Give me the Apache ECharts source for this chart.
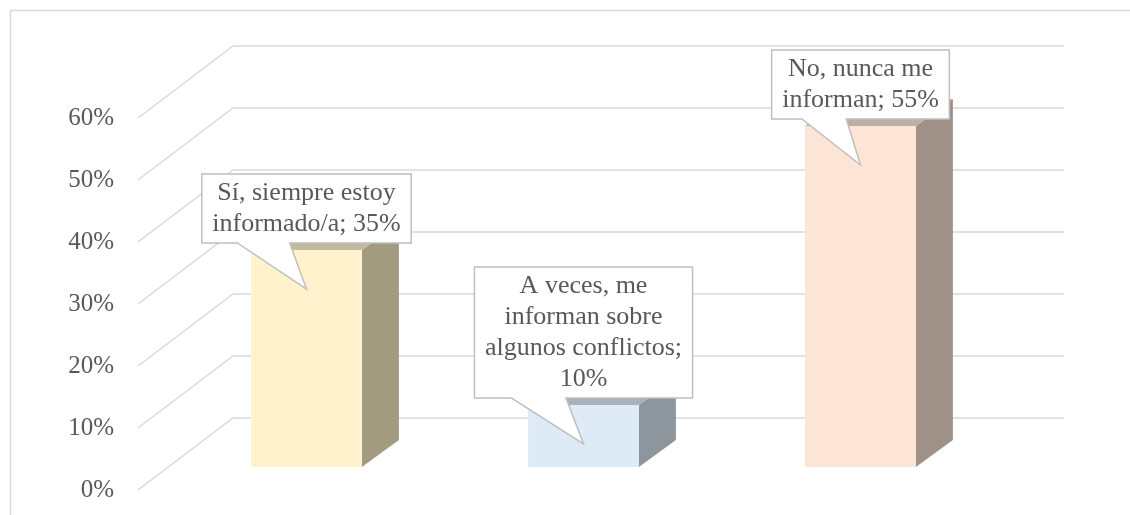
<!DOCTYPE html>
<html>
<head>
<meta charset="utf-8">
<script src="https://cdn.jsdelivr.net/npm/echarts@6/dist/echarts.min.js"></script>
<style>
  html, body { margin: 0; padding: 0; background: #fff; }
  #main { width: 1130px; height: 515px; }
</style>
</head>
<body>
<div id="main"></div>
<script>
    // datos
    var categories = ['Sí, siempre estoy informado/a', 'A veces, me informan sobre algunos conflictos', 'No, nunca me informan'];
    var values = [35, 10, 55];
    var yTicks = [0, 10, 20, 30, 40, 50, 60];
    var calloutTexts = [
        'Sí, siempre estoy\ninformado/a; 35%',
        'A veces, me\ninforman sobre\nalgunos conflictos;\n10%',
        'No, nunca me\ninforman; 55%'
    ];

    var frontColors = ['#FFF2CC', '#DEEBF7', '#FCE4D6'];
    var sideColors = ['#A39B7F', '#8D959D', '#A09188'];
    var topColors = ['#C3B99C', '#A8B2BC', '#BFAEA5'];

    var FONT = '"Liberation Serif", "Times New Roman", serif';
    // desplazamientos de la proyeccion oblicua
    var FRONT_DX = 30, FRONT_DY = -23;   // pared frontal -> cara frontal de la barra
    var DEPTH_DX = 37, DEPTH_DY = -27;   // fondo de la barra
    var WALL_DX = 95, WALL_DY = -72;     // pared del fondo

    var ctx = document.createElement('canvas').getContext('2d');
    ctx.font = '26px ' + FONT;
    function textWidth(s) {
        return Math.max.apply(null, s.split('\n').map(function (l) { return ctx.measureText(l).width; }));
    }

    var myChart = echarts.init(document.getElementById('main'));

    // lineas de la cuadricula (pared izquierda + fondo)
    function renderGrid(params, api) {
        var cs = params.coordSys;
        var y = api.coord([0, api.value(0)])[1];
        return {
            type: 'polyline',
            shape: { points: [[cs.x, y], [cs.x + WALL_DX, y + WALL_DY], [cs.x + WALL_DX + cs.width, y + WALL_DY]] },
            style: { stroke: '#D9D9D9', lineWidth: 1.5, fill: null },
            silent: true
        };
    }

    function renderBar(params, api) {
        var i = api.value(0);
        var top = api.coord([i, api.value(1)]);
        var base = api.coord([i, 0]);
        var w = api.size([1, 0])[0] * 0.4;
        var x0 = top[0] + FRONT_DX - w / 2, x1 = x0 + w;
        var yt = top[1] + FRONT_DY, yb = base[1] + FRONT_DY;
        return {
            type: 'group',
            children: [
                { type: 'polygon', shape: { points: [[x1, yt], [x1 + DEPTH_DX, yt + DEPTH_DY], [x1 + DEPTH_DX, yb + DEPTH_DY], [x1, yb]] },
                  style: { fill: sideColors[i] } },
                { type: 'polygon', shape: { points: [[x0, yt], [x1, yt], [x1 + DEPTH_DX, yt + DEPTH_DY], [x0 + DEPTH_DX, yt + DEPTH_DY]] },
                  style: { fill: topColors[i] } },
                { type: 'rect', shape: { x: x0, y: yt, width: w, height: yb - yt },
                  style: { fill: frontColors[i] } }
            ]
        };
    }

    function renderCallout(params, api) {
        var i = api.value(0);
        var top = api.coord([i, api.value(1)]);
        var cx = top[0] + FRONT_DX;
        var tipY = top[1] + FRONT_DY + 39;
        var txt = calloutTexts[i];
        var nLines = txt.split('\n').length;
        var bw = textWidth(txt) + 21;
        var bh = nLines * 31 + 7;
        var B = tipY - 46, T = B - bh, L = cx - bw / 2, R = cx + bw / 2;
        return {
            type: 'group',
            children: [
                { type: 'polygon',
                  shape: { points: [[L, T], [R, T], [R, B], [cx - 0.08 * bw, B], [cx, tipY], [cx - 0.33 * bw, B], [L, B]] },
                  style: { fill: '#fff', stroke: '#BFBFBF', lineWidth: 1.5 } },
                { type: 'text',
                  style: { text: txt, x: cx, y: (T + B) / 2, align: 'center', verticalAlign: 'middle',
                           fontSize: 26, lineHeight: 31, fontFamily: FONT, fill: '#595959' } }
            ]
        };
    }

    var option = {
        animation: false,
        graphic: [{
            type: 'rect', left: 8, top: 8, shape: { width: 1140, height: 520 },
            style: { fill: null, stroke: '#D9D9D9', lineWidth: 1.5 }, silent: true
        }],
        grid: { left: 138, right: 161, top: 118, bottom: 25 },
        xAxis: {
            type: 'category', data: categories,
            axisLine: { show: false }, axisTick: { show: false }, axisLabel: { show: false }
        },
        yAxis: {
            type: 'value', min: 0, max: 60, interval: 10,
            axisLine: { show: false }, axisTick: { show: false }, splitLine: { show: false },
            axisLabel: { formatter: '{value}%', margin: 24, fontSize: 25, fontFamily: FONT, color: '#595959' }
        },
        series: [
            { type: 'custom', renderItem: renderGrid, data: yTicks.map(function (v) { return [v]; }),
              encode: { y: 0 }, z: 1 },
            { type: 'custom', renderItem: renderBar, data: values.map(function (v, i) { return [i, v]; }),
              encode: { x: 0, y: 1 }, z: 2 },
            { type: 'custom', renderItem: renderCallout, data: values.map(function (v, i) { return [i, v]; }),
              encode: { x: 0, y: 1 }, z: 3 }
        ]
    };
    myChart.setOption(option);
</script>
</body>
</html>
